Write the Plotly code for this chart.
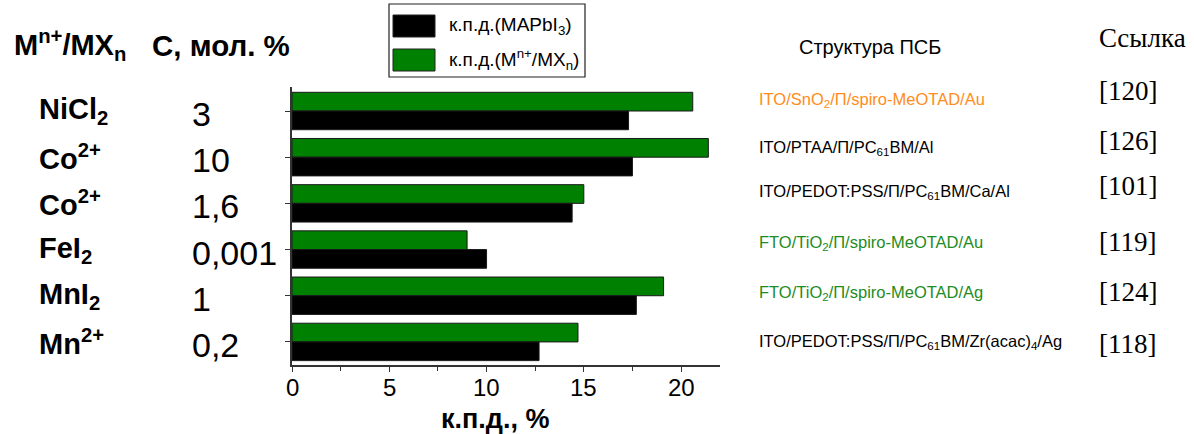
import plotly.graph_objects as go

# Additive / concentration rows (top to bottom)
additives = ["NiCl<sub>2</sub>", "Co<sup>2+</sup>", "Co<sup>2+</sup>", "FeI<sub>2</sub>", "MnI<sub>2</sub>", "Mn<sup>2+</sup>"]
concentrations = ["3", "10", "1,6", "0,001", "1", "0,2"]
row_ids = [f"{a} {c}" for a, c in zip(additives, concentrations)]

# Efficiency, %
pce_ref = [17.3, 17.5, 14.4, 10.0, 17.7, 12.7]      # к.п.д.(MAPbI3)
pce_doped = [20.6, 21.4, 15.0, 9.0, 19.1, 14.7]     # к.п.д.(Mn+/MXn)

x_ticks = [0, 5, 10, 15, 20]
x_minor = [2.5, 7.5, 12.5, 17.5]

structures = [
    "ITO/SnO<sub>2</sub>/П/spiro-MeOTAD/Au",
    "ITO/PTAA/П/PC<sub>61</sub>BM/Al",
    "ITO/PEDOT:PSS/П/PC<sub>61</sub>BM/Ca/Al",
    "FTO/TiO<sub>2</sub>/П/spiro-MeOTAD/Au",
    "FTO/TiO<sub>2</sub>/П/spiro-MeOTAD/Ag",
    "ITO/PEDOT:PSS/П/PC<sub>61</sub>BM/Zr(acac)<sub>4</sub>/Ag",
]
structure_colors = ["#FF8C1A", "#000000", "#000000", "#1E8C1E", "#1E8C1E", "#000000"]
references = ["[120]", "[126]", "[101]", "[119]", "[124]", "[118]"]

SANS = "Liberation Sans, Arial, sans-serif"
SERIF = "Liberation Serif, Times New Roman, serif"
GREEN = "#008000"

W, H = 1194, 434
L, R, T, B = 292, 474, 87, 69
PW, PH = W - L - R, H - T - B


def px(x):
    return (x - L) / PW


def py(y):
    return (H - B - y) / PH


fig = go.Figure()
fig.add_trace(go.Bar(
    y=row_ids, x=pce_doped, orientation="h", name="doped",
    marker=dict(color=GREEN, line=dict(color="#1a1a1a", width=1)),
    showlegend=False,
))
fig.add_trace(go.Bar(
    y=row_ids, x=pce_ref, orientation="h", name="ref",
    marker=dict(color="#000000", line=dict(color="#1a1a1a", width=1)),
    showlegend=False,
))

ann = []
# left-hand columns: additive and concentration
for rid, a, c in zip(row_ids, additives, concentrations):
    ann.append(dict(x=px(37), y=rid, xref="paper", yref="y", text=f"<b>{a}</b>",
                    xanchor="left", yanchor="middle", showarrow=False,
                    font=dict(family=SANS, size=29, color="#000")))
    ann.append(dict(x=px(190), y=rid, xref="paper", yref="y", text=c,
                    xanchor="left", yanchor="middle", showarrow=False, yshift=-3,
                    font=dict(family=SANS, size=34, color="#000")))

# x tick labels, set a little closer to the axis than the default
for t in x_ticks:
    ann.append(dict(x=t, y=py(387), xref="x", yref="paper", text=str(t),
                    xanchor="center", yanchor="middle", showarrow=False,
                    font=dict(family=SANS, size=24, color="#000")))

# right-hand columns: device structure and reference
struct_y = [100, 148, 192, 243, 293, 342]
ref_y = [91, 141, 186, 242, 292, 344]
for s, col, yy in zip(structures, structure_colors, struct_y):
    ann.append(dict(x=px(757), y=py(yy), xref="paper", yref="paper", text=s,
                    xanchor="left", yanchor="middle", showarrow=False,
                    font=dict(family=SANS, size=16.5, color=col)))
for r, yy in zip(references, ref_y):
    ann.append(dict(x=px(1097), y=py(yy), xref="paper", yref="paper", text=r,
                    xanchor="left", yanchor="middle", showarrow=False,
                    font=dict(family=SERIF, size=27, color="#000")))

# column headers
ann += [
    dict(x=px(12), y=py(45), xref="paper", yref="paper",
         text="<b>M<sup>n+</sup>/MX<sub>n</sub></b>", xanchor="left", yanchor="middle",
         showarrow=False, font=dict(family=SANS, size=29, color="#000")),
    dict(x=px(150), y=py(45), xref="paper", yref="paper",
         text="<b>C, мол. %</b>", xanchor="left", yanchor="middle",
         showarrow=False, font=dict(family=SANS, size=29.5, color="#000")),
    dict(x=px(797), y=py(47), xref="paper", yref="paper",
         text="Структура ПСБ", xanchor="left", yanchor="middle",
         showarrow=False, font=dict(family=SANS, size=20, color="#000")),
    dict(x=px(1097), y=py(38), xref="paper", yref="paper",
         text="Ссылка", xanchor="left", yanchor="middle",
         showarrow=False, font=dict(family=SERIF, size=27, color="#000")),
    dict(x=px(495), y=py(419), xref="paper", yref="paper",
         text="<b>к.п.д., %</b>", xanchor="center", yanchor="middle",
         showarrow=False, font=dict(family=SANS, size=27, color="#000")),
]

# legend drawn as a framed box with swatches
shapes = [
    dict(type="rect", xref="paper", yref="paper", x0=px(389), x1=px(585), y0=py(77), y1=py(4),
         line=dict(color="#222", width=1.2), fillcolor="white"),
    dict(type="rect", xref="paper", yref="paper", x0=px(393), x1=px(435), y0=py(37), y1=py(15),
         line=dict(color="#222", width=1), fillcolor="#000"),
    dict(type="rect", xref="paper", yref="paper", x0=px(393), x1=px(435), y0=py(71), y1=py(49),
         line=dict(color="#222", width=1), fillcolor=GREEN),
]
ann += [
    dict(x=px(447), y=py(26), xref="paper", yref="paper",
         text="к.п.д.(MAPbI<sub>3</sub>)", xanchor="left", yanchor="middle",
         showarrow=False, font=dict(family=SANS, size=19, color="#000")),
    dict(x=px(447), y=py(60), xref="paper", yref="paper",
         text="к.п.д.(M<sup>n+</sup>/MX<sub>n</sub>)", xanchor="left", yanchor="middle",
         showarrow=False, font=dict(family=SANS, size=19, color="#000")),
]

fig.update_layout(
    width=W, height=H,
    margin=dict(l=L, r=R, t=T, b=B, pad=0),
    paper_bgcolor="white", plot_bgcolor="white",
    barmode="group", bargap=0.19, bargroupgap=0,
    annotations=ann, shapes=shapes,
    showlegend=False,
)
fig.update_xaxes(
    range=[0, 22], tickvals=x_ticks, showticklabels=False,
    ticks="outside", ticklen=5, tickwidth=1.3, tickcolor="#333",
    minor=dict(tickvals=x_minor, ticks="outside", ticklen=4, tickwidth=1.3, tickcolor="#333"),
    showline=True, linecolor="#333", linewidth=1.5,
    showgrid=False, zeroline=False,
)
fig.update_yaxes(
    type="category", categoryorder="array", categoryarray=row_ids,
    range=[5.5, -0.52],
    ticks="outside", ticklen=5, tickwidth=1.3, tickcolor="#333",
    showticklabels=False,
    showline=True, linecolor="#333", linewidth=1.5,
    showgrid=False, zeroline=False,
)

fig.write_html("out.html")
